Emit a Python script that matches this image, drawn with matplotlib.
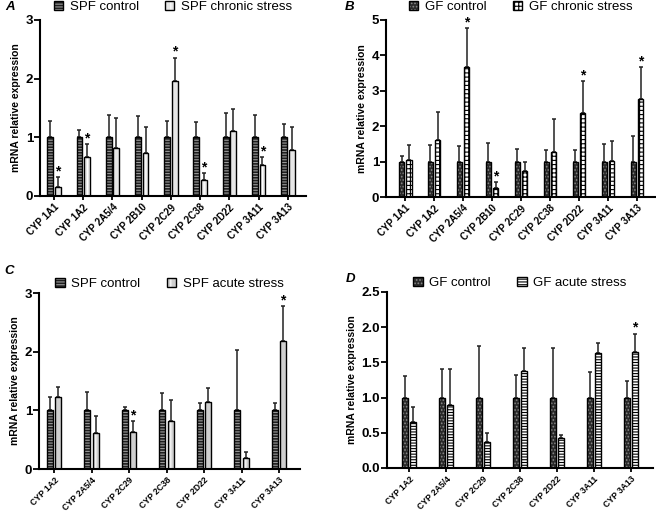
import matplotlib
matplotlib.use('Agg')
import matplotlib.pyplot as plt
from matplotlib.patches import Patch
import numpy as np

plt.rcParams['font.family'] = ['Liberation Sans', 'DejaVu Sans']
plt.rcParams['hatch.linewidth'] = 0.8

# panel A: SPF chronic
genes_a = ['CYP 1A1', 'CYP 1A2', 'CYP 2A5/4', 'CYP 2B10', 'CYP 2C29',
           'CYP 2C38', 'CYP 2D22', 'CYP 3A11', 'CYP 3A13']
ctrl_a = [1, 1, 1, 1, 1, 1, 1, 1, 1]
ctrl_err_a = [0.28, 0.12, 0.38, 0.37, 0.28, 0.26, 0.41, 0.38, 0.22]
stress_a = [0.16, 0.66, 0.82, 0.74, 1.96, 0.27, 1.11, 0.52, 0.78]
stress_err_a = [0.16, 0.22, 0.51, 0.44, 0.40, 0.12, 0.37, 0.14, 0.40]
sig_a = [1, 1, 0, 0, 1, 1, 0, 1, 0]

# panel B: GF chronic
genes_b = genes_a
ctrl_b = [1, 1, 1, 1, 1, 1, 1, 1, 1]
ctrl_err_b = [0.17, 0.46, 0.45, 0.52, 0.35, 0.32, 0.34, 0.50, 0.71]
stress_b = [1.05, 1.61, 3.66, 0.26, 0.74, 1.27, 2.38, 1.02, 2.77]
stress_err_b = [0.41, 0.80, 1.11, 0.17, 0.26, 0.92, 0.89, 0.56, 0.90]
sig_b = [0, 0, 1, 1, 0, 0, 1, 0, 1]

# panel C: SPF acute
genes_c = ['CYP 1A2', 'CYP 2A5/4', 'CYP 2C29', 'CYP 2C38', 'CYP 2D22',
           'CYP 3A11', 'CYP 3A13']
ctrl_c = [1, 1, 1, 1, 1, 1, 1]
ctrl_err_c = [0.22, 0.32, 0.05, 0.30, 0.13, 1.02, 0.13]
stress_c = [1.23, 0.62, 0.63, 0.82, 1.15, 0.19, 2.19]
stress_err_c = [0.17, 0.29, 0.19, 0.35, 0.23, 0.10, 0.59]
sig_c = [0, 0, 1, 0, 0, 0, 1]

# panel D: GF acute
genes_d = genes_c
ctrl_d = [1, 1, 1, 1, 1, 1, 1]
ctrl_err_d = [0.30, 0.40, 0.74, 0.32, 0.70, 0.37, 0.23]
stress_d = [0.65, 0.89, 0.37, 1.38, 0.42, 1.63, 1.65]
stress_err_d = [0.21, 0.51, 0.13, 0.32, 0.05, 0.14, 0.26]
sig_d = [0, 0, 0, 0, 0, 0, 1]

W, H = 656, 512
fig = plt.figure(figsize=(W / 100, H / 100), dpi=100)


def px_axes(left, top, right, bottom):
    return fig.add_axes([left / W, 1 - bottom / H, (right - left) / W, (bottom - top) / H])


def two_layer_bar(ax, x, h, w, fc, hc, hatch):
    ax.bar(x, h, w, color=fc, edgecolor=hc, hatch=hatch, linewidth=0, zorder=2)
    ax.bar(x, h, w, fill=False, edgecolor='black', linewidth=1.0, zorder=3)


def panel(ax, genes, ctrl, ctrl_err, stress, stress_err, sig, ymax, yticks, yfmt,
          xlim, w, styles, labels, leg_dy, xfs):
    x = np.arange(len(genes))
    off = w / 2 + 0.03
    (fc1, hc1, h1), (fc2, hc2, h2) = styles
    two_layer_bar(ax, x - off, ctrl, w, fc1, hc1, h1)
    two_layer_bar(ax, x + off, stress, w, fc2, hc2, h2)
    z = np.zeros(len(genes))
    ax.errorbar(x - off, ctrl, yerr=[z, ctrl_err], fmt='none', ecolor='#222222',
                elinewidth=1.1, capsize=1.5, capthick=1.1, zorder=1)
    ax.errorbar(x + off, stress, yerr=[z, stress_err], fmt='none', ecolor='#222222',
                elinewidth=1.1, capsize=1.5, capthick=1.1, zorder=1)
    for i, s in enumerate(sig):
        if s:
            ax.annotate('*', (x[i] + off, stress[i] + stress_err[i]), xytext=(0, -1),
                        textcoords='offset points', ha='center', va='bottom',
                        fontsize=10, fontweight='bold')
    ax.set_ylim(0, ymax)
    ax.set_xlim(*xlim)
    ax.set_yticks(yticks)
    ax.set_yticklabels([yfmt.format(v) for v in yticks], fontsize=9.5, fontweight='bold')
    ax.set_xticks(x)
    ax.set_xticklabels(genes, rotation=45, ha='right', rotation_mode='anchor',
                       fontsize=xfs, fontweight='bold')
    ax.tick_params(axis='y', length=4, width=1.3, pad=1)
    ax.tick_params(axis='x', length=3, width=1.3, pad=1.5)
    for s in ['top', 'right']:
        ax.spines[s].set_visible(False)
    for s in ['left', 'bottom']:
        ax.spines[s].set_linewidth(1.5)
    ax.set_ylabel('mRNA relative expression', fontsize=7.5, fontweight='bold', labelpad=3)
    handles = []
    for fc, hc, hh in styles:
        handles.append((Patch(facecolor=fc, edgecolor=hc, hatch=hh, linewidth=0),
                        Patch(fill=False, edgecolor='black', linewidth=1.0)))
    ax.legend(handles, labels, loc='center', bbox_to_anchor=(0.5, 1 + leg_dy),
              ncol=2, frameon=False, fontsize=9.5, handlelength=0.7, handleheight=0.7,
              handletextpad=0.5, columnspacing=2.0, borderpad=0, borderaxespad=0)


spf_chronic = [('#1e1e1e', '#9a9a9a', '------'), ('#e6e6e6', 'white', '||')]
gf_style = [('#2a2a2a', '#8a8a8a', '.....'), ('white', 'black', '++++')]
spf_acute = [('#1e1e1e', '#9a9a9a', '------'), ('#cfcfcf', 'white', '||')]
gf_acute = [('#2a2a2a', '#8a8a8a', '.....'), ('white', 'black', '------')]

ax_a = px_axes(40, 20, 306, 196)
panel(ax_a, genes_a, ctrl_a, ctrl_err_a, stress_a, stress_err_a, sig_a, 3, [0, 1, 2, 3],
      '{:g}', (-0.48, 8.62), 0.2, spf_chronic, ['SPF control', 'SPF chronic stress'],
      13 / 176, 7)

ax_b = px_axes(386, 20, 655, 197)
panel(ax_b, genes_b, ctrl_b, ctrl_err_b, stress_b, stress_err_b, sig_b, 5, [0, 1, 2, 3, 4, 5],
      '{:g}', (-0.66, 8.62), 0.19, gf_style, ['GF control', 'GF chronic stress'],
      13 / 177, 7)

ax_c = px_axes(39, 293, 300, 469)
panel(ax_c, genes_c, ctrl_c, ctrl_err_c, stress_c, stress_err_c, sig_c, 3, [0, 1, 2, 3],
      '{:g}', (-0.4, 6.56), 0.16, spf_acute, ['SPF control', 'SPF acute stress'],
      9 / 176, 6.2)

ax_d = px_axes(387, 292, 653, 468)
panel(ax_d, genes_d, ctrl_d, ctrl_err_d, stress_d, stress_err_d, sig_d, 2.5,
      [0, 0.5, 1.0, 1.5, 2.0, 2.5], '{:.1f}', (-0.6, 6.6), 0.16, gf_acute,
      ['GF control', 'GF acute stress'], 9 / 176, 6.2)

for letter, (lx, ly) in zip('ABCD', [(10, 7), (350, 7), (9, 271), (351, 279)]):
    fig.text(lx / W, 1 - ly / H, letter, fontsize=9.5, fontweight='bold', fontstyle='italic',
             ha='center', va='center')

fig.savefig('out.png', dpi=100)
